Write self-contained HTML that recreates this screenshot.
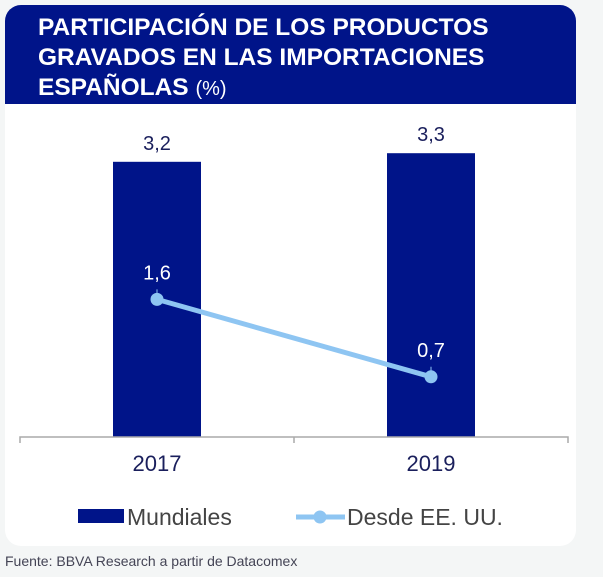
<!DOCTYPE html>
<html><head><meta charset="utf-8"><style>
body{margin:0;width:603px;height:577px;background:#f4f6f6;font-family:"Liberation Sans",Arial,sans-serif;position:relative;overflow:hidden}
#card{position:absolute;left:5px;top:5px;width:571px;height:541px;background:#fff;border-radius:16px;overflow:hidden}
#hdr{position:absolute;left:0;top:0;width:571px;height:99px;background:#001489}
#title{position:absolute;left:33px;top:8px;color:#fff;font-weight:bold;font-size:24.5px;line-height:30px;margin:0;white-space:nowrap}
#title span{font-weight:normal;font-size:20px}
#src{position:absolute;left:5px;top:553px;font-size:14px;color:#445}
svg{position:absolute;left:0;top:0}
</style></head><body>
<div id="card">
<div id="hdr"><h1 id="title">PARTICIPACIÓN DE LOS PRODUCTOS<br>GRAVADOS EN LAS IMPORTACIONES<br>ESPAÑOLAS <span>(%)</span></h1></div>
</div>
<svg id="chart" width="603" height="577"></svg>
<div id="src">Fuente: BBVA Research a partir de Datacomex</div>
<script>
const categories=["2017","2019"];
const mundiales=[3.2,3.3];
const desdeEEUU=[1.6,0.7];
const barLabels=["3,2","3,3"];
const lineLabels=["1,6","0,7"];
const NS="http://www.w3.org/2000/svg";
const svg=document.getElementById('chart');
const base=437, pxPerUnit=86, x0=20, x1=568;
const band=(x1-x0)/categories.length;
const xC=i=>x0+band*(i+0.5);
const y=v=>base-v*pxPerUnit;
function mk(t,a,p){const e=document.createElementNS(NS,t);for(const k in a)e.setAttribute(k,a[k]);(p||svg).appendChild(e);return e;}
categories.forEach((c,i)=>{
 const b=mk('rect',{x:xC(i)-44,y:y(mundiales[i]),width:88,height:mundiales[i]*pxPerUnit,fill:'#001489'});
 
 
 const t=mk('text',{x:xC(i),y:y(mundiales[i])-12,'text-anchor':'middle','font-size':20,fill:'#1a1f5c','font-family':'Liberation Sans'});t.textContent=barLabels[i];
 
 
 const xl=mk('text',{x:xC(i),y:471,'text-anchor':'middle','font-size':22,fill:'#1a1f5c','font-family':'Liberation Sans'});xl.textContent=c;
 
 
});
const ax=mk('path',{d:`M${x0} 443V437H${x1}V443M${(x0+x1)/2} 437V443`,stroke:'#aaa','stroke-width':1.5,fill:'none'});


const ln=mk('polyline',{points:desdeEEUU.map((v,i)=>xC(i)+','+y(v)).join(' '),stroke:'#8ec5f2','stroke-width':5,fill:'none'});


desdeEEUU.forEach((v,i)=>{
 mk('line',{x1:xC(i),y1:y(v)-10,x2:xC(i),y2:y(v),stroke:'#8ec5f2','stroke-width':1});
 const p=mk('circle',{cx:xC(i),cy:y(v),r:6.5,fill:'#8ec5f2'});
 
 
 const t=mk('text',{x:xC(i),y:y(v)-20,'text-anchor':'middle','font-size':20,fill:'#fff','font-family':'Liberation Sans'});t.textContent=lineLabels[i];
 
 
});
const l1=mk('g',{});


mk('rect',{x:78,y:509,width:46,height:14,fill:'#001489'},l1);
const lt1=mk('text',{x:127,y:525,'font-size':23,fill:'#444','font-family':'Liberation Sans'},l1);lt1.textContent='Mundiales';
const l2=mk('g',{});


mk('line',{x1:296,y1:517,x2:345,y2:517,stroke:'#8ec5f2','stroke-width':5},l2);
mk('circle',{cx:320,cy:517,r:6.5,fill:'#8ec5f2'},l2);
const lt2=mk('text',{x:347,y:525,'font-size':23,fill:'#444','font-family':'Liberation Sans'},l2);lt2.textContent='Desde EE. UU.';
</script>
</body></html>
